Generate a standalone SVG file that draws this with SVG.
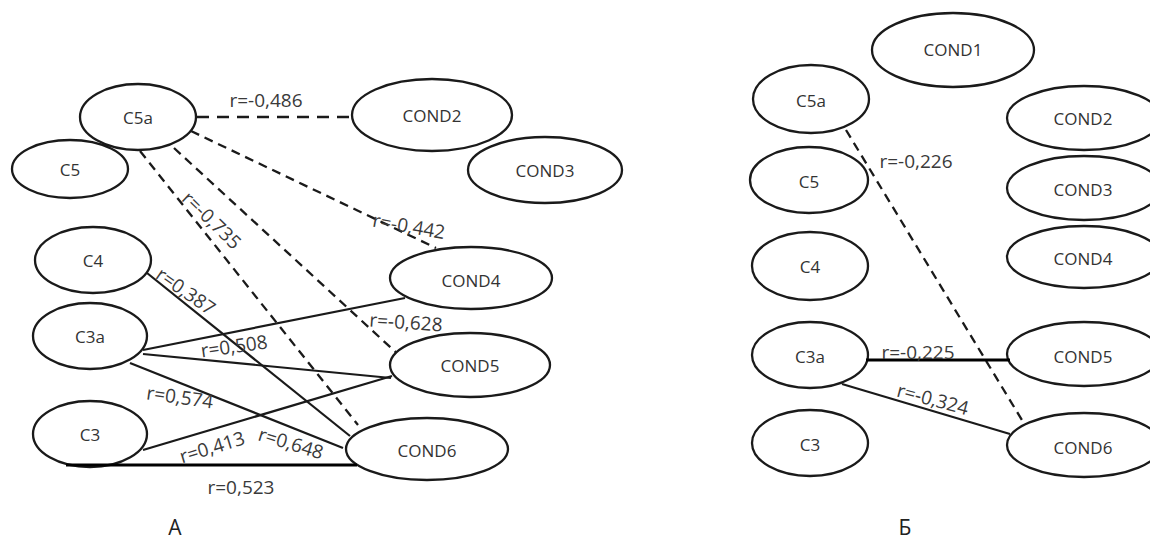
<svg xmlns="http://www.w3.org/2000/svg" width="1150" height="540" viewBox="0 0 1150 540">
<style>
.node ellipse{fill:#fff;stroke:#1a1a1a;stroke-width:2.3}
.node text{font-family:"Open Sans","Liberation Sans",sans-serif;font-size:17px;fill:#333;text-anchor:middle;dominant-baseline:central}
.c line{stroke:#1a1a1a;stroke-width:2.2;fill:none}
.c .d{stroke-dasharray:9 6;stroke-width:2.3}
.c .dh{stroke-dasharray:12 8;stroke-width:2.6}
.c .th{stroke-width:3;stroke:#000}
.lbl{font-family:"Open Sans","Liberation Sans",sans-serif;font-size:19px;fill:#3a3a3a;text-anchor:middle;dominant-baseline:central}
.panel{font-family:"Open Sans","Liberation Sans",sans-serif;font-size:21px;fill:#222;text-anchor:middle}
</style>
<rect width="1150" height="540" fill="#fff"/>
<g id="connectors" class="c">
<line class="dh" x1="197" y1="117" x2="352" y2="117"/>
<line class="d" x1="191" y1="131" x2="436" y2="248"/>
<line class="d" x1="174" y1="148" x2="401" y2="357"/>
<line class="d" x1="140" y1="151" x2="358" y2="425"/>
<line x1="147" y1="273" x2="350" y2="436"/>
<line x1="143" y1="350" x2="405" y2="298"/>
<line x1="143" y1="354" x2="391" y2="378"/>
<line x1="130" y1="363" x2="343" y2="448"/>
<line x1="143" y1="450" x2="392" y2="376"/>
<line class="d" x1="846" y1="130" x2="1025" y2="425"/>
<line x1="842" y1="384" x2="1010" y2="434"/>
</g>
<g id="nodes-A">
<g id="A-C5" class="node"><ellipse cx="70" cy="169" rx="58" ry="29"/><text x="70" y="169">C5</text></g>
<g id="A-C5a" class="node"><ellipse cx="138" cy="117" rx="58" ry="33"/><text x="138" y="117">C5a</text></g>
<g id="A-C4" class="node"><ellipse cx="93" cy="260" rx="58" ry="33"/><text x="93" y="260">C4</text></g>
<g id="A-C3a" class="node"><ellipse cx="90" cy="336" rx="57" ry="33"/><text x="90" y="336">C3a</text></g>
<g id="A-C3" class="node"><ellipse cx="90" cy="434" rx="57" ry="33"/><text x="90" y="434">C3</text></g>
<g id="A-COND2" class="node"><ellipse cx="432" cy="115" rx="80" ry="36"/><text x="432" y="115">COND2</text></g>
<g id="A-COND3" class="node"><ellipse cx="545" cy="170" rx="77" ry="33"/><text x="545" y="170">COND3</text></g>
<g id="A-COND4" class="node"><ellipse cx="471" cy="278" rx="81" ry="31"/><text x="471" y="280">COND4</text></g>
<g id="A-COND5" class="node"><ellipse cx="470" cy="365" rx="80" ry="32"/><text x="470" y="365">COND5</text></g>
<g id="A-COND6" class="node"><ellipse cx="427" cy="449" rx="81" ry="31"/><text x="427" y="450">COND6</text></g>
</g>
<g id="nodes-B">
<g id="B-COND1" class="node"><ellipse cx="953" cy="50" rx="81" ry="37"/><text x="953" y="49">COND1</text></g>
<g id="B-C5a" class="node"><ellipse cx="811" cy="99" rx="58" ry="34"/><text x="811" y="100">C5a</text></g>
<g id="B-C5" class="node"><ellipse cx="809" cy="180" rx="59" ry="33"/><text x="809" y="181">C5</text></g>
<g id="B-C4" class="node"><ellipse cx="810" cy="266" rx="58" ry="34"/><text x="810" y="266">C4</text></g>
<g id="B-C3a" class="node"><ellipse cx="810" cy="355" rx="58" ry="33"/><text x="810" y="356">C3a</text></g>
<g id="B-C3" class="node"><ellipse cx="810" cy="443" rx="58" ry="33"/><text x="810" y="444">C3</text></g>
<g id="B-COND2" class="node"><ellipse cx="1084" cy="118" rx="77" ry="32"/><text x="1083" y="118">COND2</text></g>
<g id="B-COND3" class="node"><ellipse cx="1084" cy="188" rx="77" ry="32"/><text x="1083" y="189">COND3</text></g>
<g id="B-COND4" class="node"><ellipse cx="1084" cy="257" rx="77" ry="31"/><text x="1083" y="258">COND4</text></g>
<g id="B-COND5" class="node"><ellipse cx="1084" cy="354" rx="77" ry="32"/><text x="1083" y="356">COND5</text></g>
<g id="B-COND6" class="node"><ellipse cx="1084" cy="445" rx="77" ry="32"/><text x="1083" y="447">COND6</text></g>
</g>
<g id="connectors-thick" class="c">
<line class="th" x1="66" y1="465" x2="357" y2="465"/>
<line class="th" x1="866" y1="360" x2="1010" y2="360"/>
</g>
<g id="labels">
<text class="lbl" x="266" y="100">r=-0,486</text>
<text class="lbl" transform="translate(409,226) rotate(10)">r=-0,442</text>
<text class="lbl" transform="translate(406,322) rotate(4)">r=-0,628</text>
<text class="lbl" transform="translate(212,220) rotate(44)">r=-0,735</text>
<text class="lbl" transform="translate(186,291) rotate(35)">r=0,387</text>
<text class="lbl" transform="translate(234,346) rotate(-8)">r=0,508</text>
<text class="lbl" transform="translate(180,397) rotate(8)">r=0,574</text>
<text class="lbl" transform="translate(212,447) rotate(-17)">r=0,413</text>
<text class="lbl" transform="translate(291,443) rotate(17)">r=0,648</text>
<text class="lbl" x="241" y="487">r=0,523</text>
<text class="lbl" x="916" y="161">r=-0,226</text>
<text class="lbl" x="918" y="352">r=-0,225</text>
<text class="lbl" transform="translate(933,399) rotate(15)">r=-0,324</text>
<text class="panel" x="175" y="535">A</text>
<text class="panel" x="905" y="535">Б</text>
</g>
</svg>
